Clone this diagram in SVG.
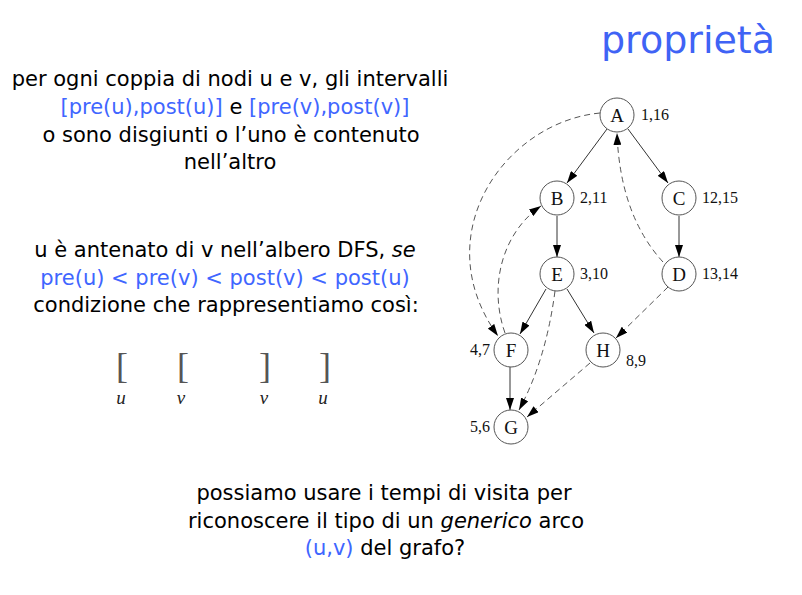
<svg xmlns="http://www.w3.org/2000/svg" width="802" height="595" viewBox="0 0 802 595">
  <style>
    .t { font-family: "DejaVu Sans", "Liberation Sans", sans-serif; font-size: 21px; fill: #000; text-anchor: middle; }
    .b { fill: #3f66ff; }
    .title { font-family: "DejaVu Sans", "Liberation Sans", sans-serif; font-size: 38px; fill: #3f63f5; }
    .node circle { fill: #fff; stroke: #555; stroke-width: 1; }
    .node text { font-family: "Liberation Serif", "Times New Roman", serif; font-size: 19px; text-anchor: middle; fill: #111; }
    .lbl { font-family: "Liberation Serif", "Times New Roman", serif; font-size: 16px; fill: #111; }
    .tree { fill: none; stroke: #333; stroke-width: 1; marker-end: url(#ah); }
    .back { fill: none; stroke: #555; stroke-width: 1; stroke-dasharray: 6 4; marker-end: url(#ah); }
    .brk { font-family: "Liberation Serif", "Times New Roman", serif; font-size: 36px; fill: #555; text-anchor: middle; }
    .var { font-family: "Liberation Serif", "Times New Roman", serif; font-size: 19px; font-style: italic; fill: #222; text-anchor: middle; }
  </style>
  <defs>
    <marker id="ah" viewBox="0 0 12 8" refX="12" refY="4" markerWidth="12" markerHeight="8" markerUnits="userSpaceOnUse" orient="auto">
      <path d="M0,0 L12,4 L0,8 Z" fill="#000"/>
    </marker>
  </defs>

  <rect width="802" height="595" fill="#fff"/>

  <!-- title -->
  <text class="title" x="601" y="53">proprietà</text>

  <!-- first statement -->
  <text class="t" x="230" y="86">per ogni coppia di nodi u e v, gli intervalli</text>
  <text class="t" x="235" y="114"><tspan class="b">[pre(u),post(u)]</tspan> e <tspan class="b">[pre(v),post(v)]</tspan></text>
  <text class="t" x="231" y="142">o sono disgiunti o l’uno è contenuto</text>
  <text class="t" x="230" y="169">nell’altro</text>

  <!-- ancestor condition -->
  <text class="t" x="225" y="257">u è antenato di v nell’albero DFS, <tspan font-style="italic">se</tspan></text>
  <text class="t b" x="225" y="285">pre(u) &lt; pre(v) &lt; post(v) &lt; post(u)</text>
  <text class="t" x="226" y="312">condizione che rappresentiamo così:</text>

  <!-- interval nesting -->
  <g id="intervals">
    <text class="brk" x="122" y="378">[</text>
    <text class="brk" x="183" y="378">[</text>
    <text class="brk" x="265" y="378">]</text>
    <text class="brk" x="325" y="378">]</text>
    <text class="var" x="121" y="404">u</text>
    <text class="var" x="181" y="404">v</text>
    <text class="var" x="264" y="404">v</text>
    <text class="var" x="323" y="404">u</text>
  </g>

  <!-- question -->
  <text class="t" x="384" y="500">possiamo usare i tempi di visita per</text>
  <text class="t" x="386" y="528">riconoscere il tipo di un <tspan font-style="italic">generico</tspan> arco</text>
  <text class="t" x="385" y="555"><tspan class="b">(u,v)</tspan> del grafo?</text>

  <!-- DFS tree edges and non-tree edges -->
  <g id="edges">
    <path class="tree" d="M607,129 L567,183"/>
    <path class="tree" d="M628,129 L668,183"/>
    <path class="tree" d="M557,216 L557,257"/>
    <path class="tree" d="M679,216 L679,257"/>
    <path class="tree" d="M546,289 L520,334"/>
    <path class="tree" d="M567,289 L594,333"/>
    <path class="tree" d="M510,367 L510,410"/>
    <path class="back" d="M663,262 Q620,215 617,133"/>
    <path class="back" d="M600,113 C505,122 425,235 498,336"/>
    <path class="back" d="M505,333 C488,285 503,232 541,206"/>
    <path class="back" d="M555,291 Q546,360 519,410"/>
    <path class="back" d="M668,287 L616,338"/>
    <path class="back" d="M590,363 L527,417"/>
  </g>

  <g id="A" class="node"><circle cx="617" cy="115" r="17"/><text x="617" y="121.5">A</text></g>
  <g id="B" class="node"><circle cx="557" cy="198" r="17"/><text x="557" y="204.5">B</text></g>
  <g id="C" class="node"><circle cx="679" cy="198" r="17"/><text x="679" y="204.5">C</text></g>
  <g id="E" class="node"><circle cx="557" cy="274" r="17"/><text x="557" y="280.5">E</text></g>
  <g id="D" class="node"><circle cx="679" cy="274" r="17"/><text x="679" y="280.5">D</text></g>
  <g id="F" class="node"><circle cx="511" cy="350" r="17"/><text x="511" y="356.5">F</text></g>
  <g id="H" class="node"><circle cx="603" cy="350" r="17"/><text x="603" y="356.5">H</text></g>
  <g id="G" class="node"><circle cx="511" cy="427" r="17"/><text x="511" y="433.5">G</text></g>

  <!-- pre/post visit times -->
  <g id="times">
    <text class="lbl" x="641" y="120">1,16</text>
    <text class="lbl" x="580" y="203">2,11</text>
    <text class="lbl" x="702" y="203">12,15</text>
    <text class="lbl" x="580" y="279">3,10</text>
    <text class="lbl" x="702" y="279">13,14</text>
    <text class="lbl" x="490" y="355" text-anchor="end">4,7</text>
    <text class="lbl" x="626" y="366">8,9</text>
    <text class="lbl" x="490" y="432" text-anchor="end">5,6</text>
  </g>
</svg>
